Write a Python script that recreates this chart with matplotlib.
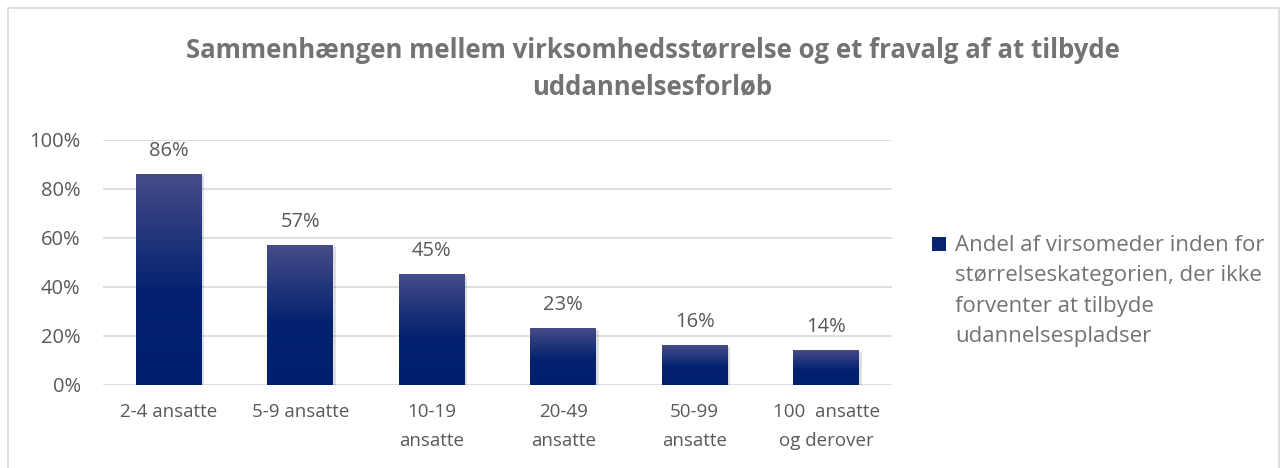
import numpy as np
import matplotlib.pyplot as plt
from matplotlib.colors import LinearSegmentedColormap
from matplotlib.patches import Rectangle

categories = ["2-4 ansatte", "5-9 ansatte", "10-19\nansatte", "20-49\nansatte",
              "50-99\nansatte", "100  ansatte\nog derover"]
values = [86, 57, 45, 23, 16, 14]
series_name = ("Andel af virsomeder inden for\nstørrelseskategorien, der ikke\n"
               "forventer at tilbyde\nudannelsespladser")
title = "Sammenhængen mellem virksomhedsstørrelse og et fravalg af at tilbyde\nuddannelsesforløb"

plt.rcParams['font.family'] = ['Open Sans', 'DejaVu Sans']

fig = plt.figure(figsize=(12.82, 4.68), dpi=100)
fig.patches.append(Rectangle((0.006, -0.01), 0.992, 0.992, transform=fig.transFigure,
                             fill=False, edgecolor='#d9d9d9', linewidth=1.2))

ax = fig.add_axes([0.0803, 0.1774, 0.6155, 0.5235])

cmap = LinearSegmentedColormap.from_list('bar', [(0, '#001f6e'), (0.45, '#04226f'), (1, '#464c89')])
grad = np.linspace(0, 1, 256).reshape(-1, 1)
width = 0.5
x = np.arange(len(categories))
for xi, v in zip(x, values):
    # soft shadow
    ax.add_patch(Rectangle((xi - width / 2 + 0.02, -0.6), width, v, facecolor='#000000',
                           alpha=0.12, edgecolor='none', zorder=2))
    ax.imshow(grad, cmap=cmap, origin='lower', aspect='auto',
              extent=(xi - width / 2, xi + width / 2, 0, v), zorder=3)
    ax.text(xi, v + 5.5, f"{v}%", ha='center', va='bottom', fontsize=14.5, color='#595959')

ax.set_xlim(-0.5, len(categories) - 0.5)
ax.set_ylim(0, 100)
ax.set_yticks(range(0, 101, 20))
ax.set_yticklabels([f"{t}%" for t in range(0, 101, 20)])
ax.set_xticks(x)
ax.set_xticklabels(categories)
for lbl in ax.get_xticklabels():
    lbl.set_linespacing(1.75)
ax.yaxis.grid(True, color='#d9d9d9', linewidth=1.2, zorder=0)
ax.set_axisbelow(True)
for s in ax.spines.values():
    s.set_visible(False)
ax.tick_params(axis='both', length=0, labelcolor='#595959')
ax.tick_params(axis='x', pad=13, labelsize=13.5)
ax.tick_params(axis='y', pad=16, labelsize=14.5)

fig.text(0.509, 0.853, title, ha='center', va='center', fontsize=18.5,
         fontweight='bold', color='#737373', linespacing=1.45)

# legend
fig.patches.append(Rectangle((932 / 1282, 1 - 251 / 468), 14 / 1282, 14 / 468,
                             transform=fig.transFigure, facecolor='#0a2470', edgecolor='none'))
fig.text(955 / 1282, 1 - 291 / 468, series_name, ha='left', va='center', fontsize=16,
         color='#737373', linespacing=1.58)

fig.savefig('out.png', dpi=100)
